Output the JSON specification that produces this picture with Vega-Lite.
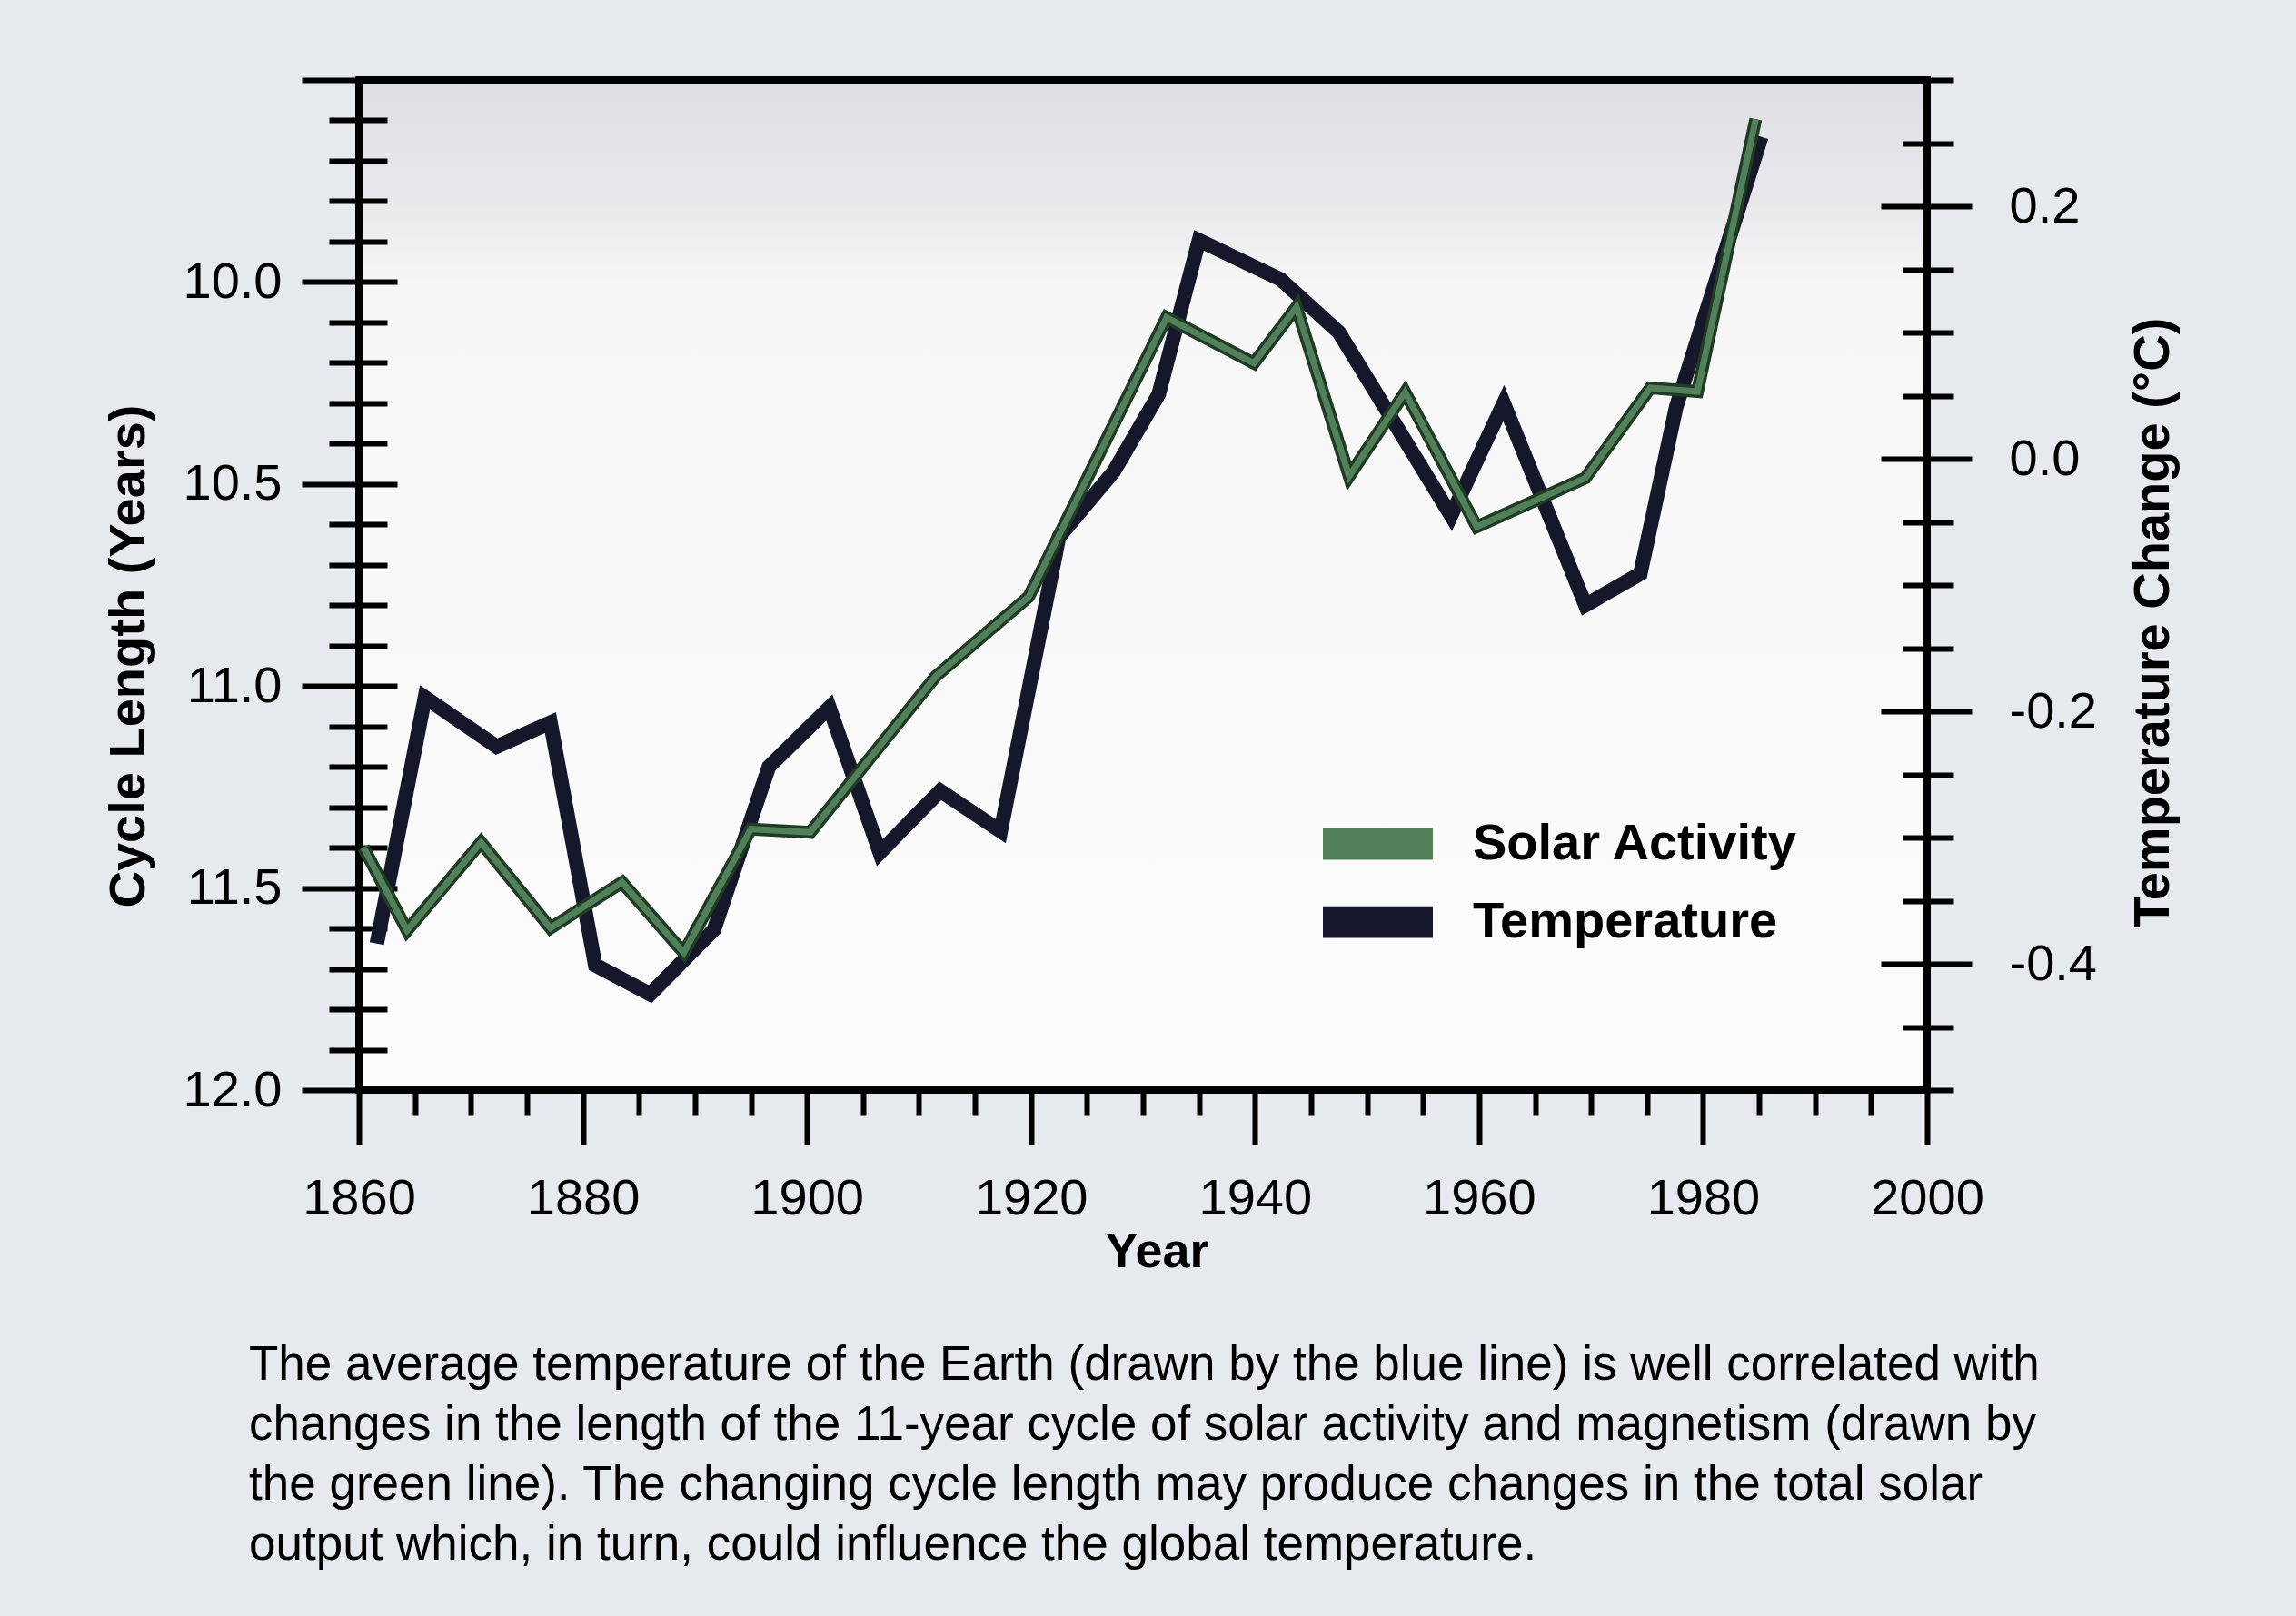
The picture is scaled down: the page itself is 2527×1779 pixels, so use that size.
{
  "$schema": "https://vega.github.io/schema/vega-lite/v6.json",
  "width": 1726,
  "height": 1112,
  "autosize": {"type": "none"},
  "padding": {"left": 395, "top": 88, "right": 406, "bottom": 579},
  "background": "#e6eaee",
  "datasets": {
    "temp": [
      {"year": 1861.6, "temp": -0.384},
      {"year": 1865.9, "temp": -0.189},
      {"year": 1872.3, "temp": -0.228},
      {"year": 1877.1, "temp": -0.209},
      {"year": 1881.1, "temp": -0.401},
      {"year": 1886.0, "temp": -0.424},
      {"year": 1891.7, "temp": -0.373},
      {"year": 1896.6, "temp": -0.244},
      {"year": 1902.0, "temp": -0.197},
      {"year": 1906.5, "temp": -0.312},
      {"year": 1911.9, "temp": -0.263},
      {"year": 1917.3, "temp": -0.295},
      {"year": 1922.5, "temp": -0.062},
      {"year": 1927.4, "temp": -0.010},
      {"year": 1931.4, "temp": 0.051},
      {"year": 1935.0, "temp": 0.173},
      {"year": 1942.3, "temp": 0.142},
      {"year": 1947.5, "temp": 0.100},
      {"year": 1957.5, "temp": -0.045},
      {"year": 1962.2, "temp": 0.044},
      {"year": 1969.5, "temp": -0.116},
      {"year": 1974.4, "temp": -0.091},
      {"year": 1977.6, "temp": 0.041},
      {"year": 1985.2, "temp": 0.255}
    ],
    "solar": [
      {"year": 1860.4, "cycle": 11.399},
      {"year": 1864.3, "cycle": 11.605},
      {"year": 1870.9, "cycle": 11.387},
      {"year": 1877.1, "cycle": 11.599},
      {"year": 1883.5, "cycle": 11.486},
      {"year": 1889.0, "cycle": 11.660},
      {"year": 1895.0, "cycle": 11.354},
      {"year": 1900.3, "cycle": 11.362},
      {"year": 1911.5, "cycle": 10.976},
      {"year": 1919.8, "cycle": 10.779},
      {"year": 1932.1, "cycle": 10.088},
      {"year": 1939.9, "cycle": 10.201},
      {"year": 1943.7, "cycle": 10.062},
      {"year": 1948.4, "cycle": 10.481},
      {"year": 1953.4, "cycle": 10.273},
      {"year": 1959.8, "cycle": 10.606},
      {"year": 1969.5, "cycle": 10.485},
      {"year": 1975.3, "cycle": 10.262},
      {"year": 1979.5, "cycle": 10.271},
      {"year": 1984.7, "cycle": 9.597}
    ]
  },
  "title": {
    "text": [
      "The average temperature of the Earth (drawn by the blue line) is well correlated with",
      "changes in the length of the 11-year cycle of solar activity and magnetism (drawn by",
      "the green line).  The changing cycle length may produce changes in the total solar",
      "output which, in turn, could influence the global temperature."
    ],
    "orient": "bottom",
    "anchor": "start",
    "frame": "group",
    "offset": 72,
    "dx": -121,
    "font": "Liberation Sans",
    "fontSize": 53,
    "fontWeight": "normal",
    "lineHeight": 66,
    "color": "#000000"
  },
  "layer": [
    {
      "data": {"name": "temp"},
      "mark": {"type": "line", "strokeWidth": 16, "strokeJoin": "miter", "strokeMiterLimit": 6},
      "encoding": {
        "x": {
          "field": "year", "type": "quantitative",
          "scale": {"domain": [1860, 2000], "nice": false, "zero": false},
          "axis": {
            "orient": "bottom",
            "values": [1860, 1880, 1900, 1920, 1940, 1960, 1980, 2000],
            "tickSize": 60, "labelPadding": 32, "format": "d",
            "labelFlush": false, "labelOverlap": false,
            "title": "Year", "titleFontSize": 54, "titleX": 878, "titleY": 151,
            "titleBaseline": "top", "titleAlign": "center"
          }
        },
        "y": {
          "field": "temp", "type": "quantitative",
          "scale": {"domain": [-0.5, 0.3], "nice": false, "zero": false},
          "axis": {
            "orient": "right",
            "values": [-0.4, -0.2, 0, 0.2],
            "tickSize": 49, "labelPadding": 41,
            "labelExpr": "datum.value < 0 ? '-' + format(-datum.value, '.1f') : format(datum.value, '.1f')",
            "title": "Temperature Change (°C)", "titleAngle": 270, "titleX": 248, "titleY": 597,
            "titleBaseline": "middle", "titleAlign": "center"
          }
        },
        "color": {
          "datum": "Temperature",
          "scale": {"domain": ["Solar Activity", "Temperature"], "range": ["#52805a", "#17172b"]},
          "legend": {
            "orient": "none", "legendX": 1061, "legendY": 813, "title": null,
            "encode": {"symbols": {"update": {"fill": {"scale": "color", "field": "value"}, "fillOpacity": {"value": 1}, "stroke": {"value": "#1b2620"}, "strokeWidth": {"value": 6}}}}
          }
        }
      }
    },
    {
      "data": {"name": "solar"},
      "mark": {"type": "line", "color": "#1f3b24", "strokeWidth": 14, "strokeJoin": "miter", "strokeMiterLimit": 6},
      "encoding": {
        "x": {
          "field": "year", "type": "quantitative",
          "scale": {"domain": [1860, 2000], "nice": false, "zero": false},
          "axis": {
            "orient": "bottom",
            "values": [1865, 1870, 1875, 1885, 1890, 1895, 1905, 1910, 1915, 1925, 1930, 1935, 1945, 1950, 1955, 1965, 1970, 1975, 1985, 1990, 1995],
            "tickSize": 28, "labels": false, "title": null
          }
        },
        "y": {
          "field": "cycle", "type": "quantitative",
          "scale": {"domain": [9.5, 12], "reverse": true, "nice": false, "zero": false},
          "axis": {
            "orient": "left",
            "values": [9.5, 10, 10.5, 11, 11.5, 12],
            "tickSize": 63, "labelPadding": 22,
            "labelExpr": "datum.value < 9.9 ? '' : format(datum.value, '.1f')",
            "title": "Cycle Length (Years)", "titleAngle": 270, "titleX": -254, "titleY": 634,
            "titleBaseline": "middle", "titleAlign": "center"
          }
        }
      }
    },
    {
      "data": {"name": "solar"},
      "mark": {"type": "line", "strokeWidth": 7, "strokeJoin": "miter", "strokeMiterLimit": 6},
      "encoding": {
        "x": {"field": "year", "type": "quantitative", "scale": {"domain": [1860, 2000], "nice": false, "zero": false}, "axis": null},
        "y": {
          "field": "cycle", "type": "quantitative",
          "scale": {"domain": [9.5, 12], "reverse": true, "nice": false, "zero": false},
          "axis": {
            "orient": "left",
            "values": [9.6, 9.7, 9.8, 9.9, 10.1, 10.2, 10.3, 10.4, 10.6, 10.7, 10.8, 10.9, 11.1, 11.2, 11.3, 11.4, 11.6, 11.7, 11.8, 11.9],
            "tickSize": 33, "labels": false, "title": null
          }
        },
        "color": {
          "datum": "Solar Activity",
          "scale": {"domain": ["Solar Activity", "Temperature"], "range": ["#52805a", "#17172b"]},
          "legend": {
            "orient": "none", "legendX": 1061, "legendY": 813, "title": null,
            "encode": {"symbols": {"update": {"fill": {"scale": "color", "field": "value"}, "fillOpacity": {"value": 1}, "stroke": {"value": "#1b2620"}, "strokeWidth": {"value": 6}}}}
          }
        }
      }
    },
    {
      "data": {"name": "solar"},
      "mark": {"type": "line", "opacity": 0},
      "encoding": {
        "x": {"field": "year", "type": "quantitative", "scale": {"domain": [1860, 2000], "nice": false, "zero": false}, "axis": null},
        "y": {
          "field": "cycle", "type": "quantitative",
          "scale": {"domain": [9.5, 12], "reverse": true, "nice": false, "zero": false},
          "axis": {"orient": "left", "values": [9.5, 10, 10.5, 11, 11.5, 12], "tickSize": -42, "labels": false, "title": null}
        }
      }
    },
    {
      "data": {"name": "solar"},
      "mark": {"type": "line", "opacity": 0},
      "encoding": {
        "x": {"field": "year", "type": "quantitative", "scale": {"domain": [1860, 2000], "nice": false, "zero": false}, "axis": null},
        "y": {
          "field": "cycle", "type": "quantitative",
          "scale": {"domain": [9.5, 12], "reverse": true, "nice": false, "zero": false},
          "axis": {
            "orient": "left",
            "values": [9.6, 9.7, 9.8, 9.9, 10.1, 10.2, 10.3, 10.4, 10.6, 10.7, 10.8, 10.9, 11.1, 11.2, 11.3, 11.4, 11.6, 11.7, 11.8, 11.9],
            "tickSize": -31, "labels": false, "title": null
          }
        }
      }
    },
    {
      "data": {"name": "temp"},
      "mark": {"type": "line", "opacity": 0},
      "encoding": {
        "x": {"field": "year", "type": "quantitative", "scale": {"domain": [1860, 2000], "nice": false, "zero": false}, "axis": null},
        "y": {
          "field": "temp", "type": "quantitative",
          "scale": {"domain": [-0.5, 0.3], "nice": false, "zero": false},
          "axis": {
            "orient": "right",
            "values": [0.3, 0.25, 0.15, 0.1, 0.05, -0.05, -0.1, -0.15, -0.25, -0.3, -0.35, -0.45, -0.5],
            "tickSize": 29, "labels": false, "title": null
          }
        }
      }
    },
    {
      "data": {"name": "temp"},
      "mark": {"type": "line", "opacity": 0},
      "encoding": {
        "x": {"field": "year", "type": "quantitative", "scale": {"domain": [1860, 2000], "nice": false, "zero": false}, "axis": null},
        "y": {
          "field": "temp", "type": "quantitative",
          "scale": {"domain": [-0.5, 0.3], "nice": false, "zero": false},
          "axis": {"orient": "right", "values": [-0.4, -0.2, 0, 0.2], "tickSize": -51, "labels": false, "title": null}
        }
      }
    },
    {
      "data": {"name": "temp"},
      "mark": {"type": "line", "opacity": 0},
      "encoding": {
        "x": {"field": "year", "type": "quantitative", "scale": {"domain": [1860, 2000], "nice": false, "zero": false}, "axis": null},
        "y": {
          "field": "temp", "type": "quantitative",
          "scale": {"domain": [-0.5, 0.3], "nice": false, "zero": false},
          "axis": {
            "orient": "right",
            "values": [0.25, 0.15, 0.1, 0.05, -0.05, -0.1, -0.15, -0.25, -0.3, -0.35, -0.45],
            "tickSize": -27, "labels": false, "title": null
          }
        }
      }
    }
  ],
  "resolve": {
    "scale": {"y": "independent"},
    "axis": {"x": "independent", "y": "independent"}
  },
  "config": {
    "font": "Liberation Sans",
    "view": {
      "fill": {"gradient": "linear", "x1": 0, "y1": 0, "x2": 0, "y2": 1,
        "stops": [{"offset": 0, "color": "#dedfe4"}, {"offset": 0.12, "color": "#e8e8eb"}, {"offset": 0.2, "color": "#f6f6f6"}, {"offset": 1, "color": "#fbfbfb"}]},
      "stroke": "#000000", "strokeWidth": 8
    },
    "axis": {
      "domain": false, "grid": false,
      "tickColor": "#000000", "tickWidth": 6,
      "labelColor": "#000000", "labelFont": "Liberation Sans", "labelFontSize": 56, "labelFontWeight": "normal",
      "titleColor": "#000000", "titleFont": "Liberation Sans", "titleFontSize": 56, "titleFontWeight": "bold"
    },
    "legend": {
      "symbolType": "M-1,-0.25H1V0.25H-1Z",
      "symbolSize": 13225,
      "clipHeight": 56,
      "rowPadding": 30,
      "padding": 0,
      "labelFont": "Liberation Sans",
      "labelFontSize": 56,
      "labelFontWeight": "bold",
      "labelColor": "#000000",
      "labelOffset": 44,
      "labelLimit": 0
    }
  }
}
